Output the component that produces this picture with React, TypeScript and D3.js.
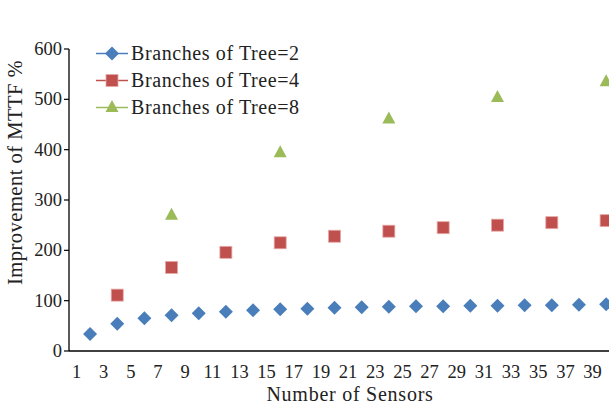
import React from "react";
import * as d3 from "d3";

// Sensor counts (x) and improvement of MTTF (%) for each tree branching factor
const sensors2 = [2, 4, 6, 8, 10, 12, 14, 16, 18, 20, 22, 24, 26, 28, 30, 32, 34, 36, 38, 40];
const mttf2 = [34, 54, 65, 71, 75, 78, 81, 83, 84, 86, 87, 88, 89, 89, 90, 90, 91, 91, 92, 93];
const sensors4 = [4, 8, 12, 16, 20, 24, 28, 32, 36, 40];
const mttf4 = [111, 166, 196, 215, 228, 238, 245, 250, 255, 259];
const sensors8 = [8, 16, 24, 32, 40];
const mttf8 = [270, 394, 461, 504, 535];
const seriesNames = ["Branches of Tree=2", "Branches of Tree=4", "Branches of Tree=8"];
const xTickLabels = d3.range(1, 40, 2);
const yTickLabels = [0, 100, 200, 300, 400, 500, 600];

const W = 609;
const H = 407;
const FONT = "'Liberation Serif', 'Times New Roman', serif";
const colors = ["#4a7ebb", "#c0504d", "#9bbb59"];

type Shape = "diamond" | "square" | "triangle";
const shapes: Shape[] = ["diamond", "square", "triangle"];

function Marker({ shape, x, y, color }: { shape: Shape; x: number; y: number; color: string }) {
  if (shape === "diamond") {
    const r = 7;
    return <path d={`M${x},${y - r}L${x + r},${y}L${x},${y + r}L${x - r},${y}Z`} fill={color} />;
  }
  if (shape === "square") {
    const s = 12;
    return <rect x={x - s / 2} y={y - s / 2} width={s} height={s} fill={color} stroke="#e6a8a6" strokeWidth={0.8} />;
  }
  const h = 12;
  const w = 13;
  return <path d={`M${x},${y - h * 0.62}L${x + w / 2},${y + h * 0.38}L${x - w / 2},${y + h * 0.38}Z`} fill={color} />;
}

export default function App() {
  const left = 69;
  const top = 49;
  const bottom = 351;
  const step = 13.58;
  const x = d3.scaleLinear().domain([1, 40]).range([76.5, 76.5 + 39 * step]);
  const y = d3.scaleLinear().domain([0, 600]).range([bottom, top]);

  const series = [
    { xs: sensors2, ys: mttf2 },
    { xs: sensors4, ys: mttf4 },
    { xs: sensors8, ys: mttf8 },
  ];

  return (
    <svg width={W} height={H} style={{ position: "absolute", left: 0, top: 0, background: "#fff" }} fontFamily={FONT}>
      {/* y axis */}
      <line x1={left} x2={left} y1={top} y2={bottom} stroke="#000" strokeWidth={1.3} />
      {yTickLabels.map((t) => (
        <g key={t}>
          <line x1={left - 5} x2={left} y1={y(t)} y2={y(t)} stroke="#000" strokeWidth={1.2} />
          <text x={left - 7} y={y(t)} dy="0.33em" textAnchor="end" fontSize={18.5} fill="#222">
            {t}
          </text>
        </g>
      ))}
      {/* x axis */}
      <line x1={left} x2={W} y1={bottom} y2={bottom} stroke="#000" strokeWidth={1.3} />
      {xTickLabels.map((t) => (
        <text key={t} x={x(t)} y={378} textAnchor="middle" fontSize={18.5} fill="#222">
          {t}
        </text>
      ))}
      <text x={350} y={401} textAnchor="middle" fontSize={20} letterSpacing={0.75} fill="#222">
        Number of Sensors
      </text>
      <text
        transform={`translate(${22},${172.5}) rotate(-90)`}
        textAnchor="middle"
        fontSize={20.5}
        letterSpacing={0.5}
        fill="#222"
      >
        Improvement of MTTF %
      </text>

      {/* markers */}
      {series.map((s, i) =>
        s.xs.map((v, j) => (
          <Marker key={`${i}-${j}`} shape={shapes[i]} x={x(v)} y={y(s.ys[j])} color={colors[i]} />
        ))
      )}

      {/* legend */}
      {seriesNames.map((name, i) => {
        const ly = 53.5 + i * 27;
        return (
          <g key={name}>
            <line x1={96} x2={128} y1={ly} y2={ly} stroke={colors[i]} strokeWidth={1.5} />
            <Marker shape={shapes[i]} x={112} y={ly} color={colors[i]} />
            <text x={131} y={ly} dy="0.33em" fontSize={20} letterSpacing={0.6} fill="#222">
              {name}
            </text>
          </g>
        );
      })}
    </svg>
  );
}
